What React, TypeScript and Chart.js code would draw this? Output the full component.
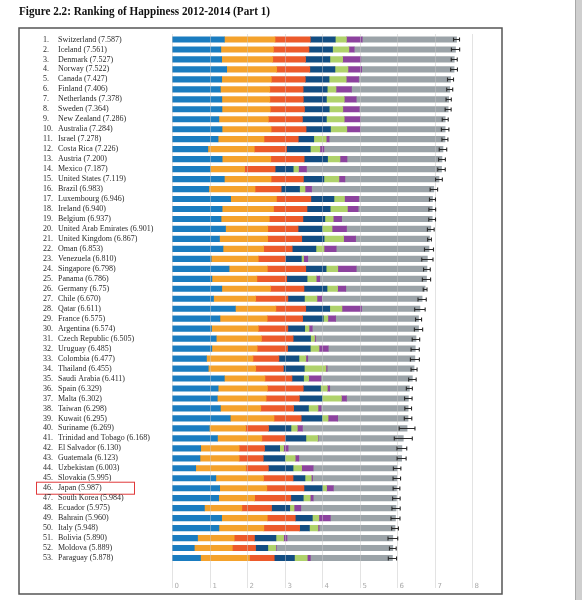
import React, { useRef, useEffect } from 'react';
import { Chart, registerables } from 'chart.js';

Chart.register(...registerables);

const countries = [
  'Switzerland', 'Iceland', 'Denmark', 'Norway', 'Canada', 'Finland', 'Netherlands', 'Sweden',
  'New Zealand', 'Australia', 'Israel', 'Costa Rica', 'Austria', 'Mexico', 'United States', 'Brazil',
  'Luxembourg', 'Ireland', 'Belgium', 'United Arab Emirates', 'United Kingdom', 'Oman', 'Venezuela',
  'Singapore', 'Panama', 'Germany', 'Chile', 'Qatar', 'France', 'Argentina', 'Czech Republic',
  'Uruguay', 'Colombia', 'Thailand', 'Saudi Arabia', 'Spain', 'Malta', 'Taiwan', 'Kuwait', 'Suriname',
  'Trinidad and Tobago', 'El Salvador', 'Guatemala', 'Uzbekistan', 'Slovakia', 'Japan', 'South Korea',
  'Ecuador', 'Bahrain', 'Italy', 'Bolivia', 'Moldova', 'Paraguay',
];

const scoreText = [
  '7.587', '7.561', '7.527', '7.522', '7.427', '7.406', '7.378', '7.364', '7.286', '7.284',
  '7.278', '7.226', '7.200', '7.187', '7.119', '6.983', '6.946', '6.940', '6.937', '6.901',
  '6.867', '6.853', '6.810', '6.798', '6.786', '6.75', '6.670', '6.611', '6.575', '6.574',
  '6.505', '6.485', '6.477', '6.455', '6.411', '6.329', '6.302', '6.298', '6.295', '6.269',
  '6.168', '6.130', '6.123', '6.003', '5.995', '5.987', '5.984', '5.975', '5.960', '5.948',
  '5.890', '5.889', '5.878',
];

const gdp = [
  1.397, 1.302, 1.325, 1.459, 1.326, 1.290, 1.329, 1.332, 1.250, 1.334,
  1.229, 0.956, 1.337, 1.021, 1.395, 0.981, 1.564, 1.336, 1.308, 1.427,
  1.266, 1.360, 1.044, 1.522, 1.064, 1.328, 1.107, 1.690, 1.278, 1.054,
  1.179, 1.062, 0.919, 0.967, 1.395, 1.230, 1.207, 1.291, 1.554, 0.995,
  1.212, 0.765, 0.746, 0.632, 1.169, 1.271, 1.245, 0.864, 1.324, 1.251,
  0.681, 0.594, 0.760,
];
const social = [
  1.350, 1.402, 1.361, 1.331, 1.323, 1.318, 1.280, 1.289, 1.320, 1.309,
  1.224, 1.238, 1.297, 0.915, 1.247, 1.233, 1.220, 1.369, 1.286, 1.126,
  1.285, 1.082, 1.256, 1.020, 1.199, 1.299, 1.124, 1.079, 1.260, 1.248,
  1.206, 1.209, 1.240, 1.265, 1.084, 1.314, 1.302, 1.076, 1.166, 0.972,
  1.184, 1.025, 1.044, 1.340, 1.270, 1.257, 0.958, 0.999, 1.216, 1.198,
  0.978, 1.015, 1.305,
];
const health = [
  0.941, 0.948, 0.875, 0.885, 0.906, 0.889, 0.893, 0.911, 0.908, 0.932,
  0.914, 0.860, 0.890, 0.814, 0.862, 0.697, 0.919, 0.895, 0.897, 0.809,
  0.909, 0.763, 0.721, 1.025, 0.797, 0.892, 0.859, 0.797, 0.946, 0.787,
  0.845, 0.812, 0.691, 0.739, 0.720, 0.956, 0.887, 0.875, 0.725, 0.608,
  0.615, 0.677, 0.644, 0.598, 0.789, 0.991, 0.965, 0.791, 0.747, 0.954,
  0.539, 0.618, 0.661,
];
const freedom = [
  0.666, 0.629, 0.649, 0.670, 0.633, 0.642, 0.616, 0.660, 0.639, 0.651,
  0.413, 0.634, 0.624, 0.482, 0.546, 0.490, 0.616, 0.618, 0.585, 0.642,
  0.596, 0.633, 0.429, 0.543, 0.542, 0.615, 0.441, 0.640, 0.550, 0.450,
  0.464, 0.604, 0.535, 0.557, 0.310, 0.460, 0.604, 0.397, 0.555, 0.597,
  0.559, 0.404, 0.577, 0.658, 0.318, 0.496, 0.332, 0.486, 0.455, 0.262,
  0.574, 0.328, 0.539,
];
const generosity = [
  0.297, 0.436, 0.341, 0.347, 0.458, 0.234, 0.476, 0.363, 0.475, 0.436,
  0.332, 0.255, 0.331, 0.141, 0.401, 0.146, 0.280, 0.459, 0.223, 0.264,
  0.519, 0.215, 0.058, 0.311, 0.244, 0.282, 0.334, 0.326, 0.123, 0.115,
  0.107, 0.233, 0.184, 0.576, 0.137, 0.182, 0.518, 0.254, 0.162, 0.170,
  0.318, 0.107, 0.275, 0.228, 0.169, 0.107, 0.186, 0.115, 0.174, 0.228,
  0.205, 0.210, 0.342,
];
const corruption = [
  0.420, 0.141, 0.484, 0.365, 0.330, 0.414, 0.318, 0.438, 0.429, 0.356,
  0.078, 0.106, 0.187, 0.213, 0.159, 0.175, 0.378, 0.287, 0.225, 0.386,
  0.321, 0.325, 0.111, 0.492, 0.093, 0.218, 0.129, 0.522, 0.206, 0.085,
  0.027, 0.246, 0.051, 0.032, 0.325, 0.064, 0.136, 0.081, 0.256, 0.136,
  0.011, 0.118, 0.095, 0.308, 0.034, 0.181, 0.079, 0.180, 0.306, 0.029,
  0.088, 0.016, 0.082,
];
const dystopia = [
  2.517, 2.702, 2.492, 2.465, 2.452, 2.620, 2.466, 2.371, 2.264, 2.266,
  3.089, 3.177, 2.533, 3.602, 2.510, 3.260, 1.970, 1.976, 2.415, 2.247,
  1.970, 2.475, 3.191, 1.885, 2.848, 2.116, 2.676, 1.557, 2.211, 2.836,
  2.678, 2.321, 2.857, 2.319, 2.439, 2.124, 1.649, 2.323, 1.876, 2.791,
  2.269, 3.035, 2.743, 2.237, 2.246, 1.684, 2.220, 2.539, 1.738, 2.025,
  2.823, 3.107, 2.189,
];
const ciHalf = [
  0.08, 0.11, 0.08, 0.09, 0.08, 0.08, 0.07, 0.08, 0.08, 0.10,
  0.08, 0.10, 0.09, 0.10, 0.09, 0.10, 0.08, 0.09, 0.09, 0.09,
  0.05, 0.12, 0.15, 0.09, 0.11, 0.05, 0.11, 0.14, 0.08, 0.11,
  0.10, 0.11, 0.12, 0.08, 0.10, 0.08, 0.10, 0.09, 0.10, 0.21,
  0.24, 0.13, 0.12, 0.10, 0.10, 0.09, 0.10, 0.11, 0.12, 0.09,
  0.13, 0.09, 0.11,
];
const xTicks = [0, 1, 2, 3, 4, 5, 6, 7, 8];
const highlighted = 'Japan';

const segments = [
  { label: 'GDP per capita', data: gdp, color: '#1a7cc0' },
  { label: 'Social support', data: social, color: '#f4a22c' },
  { label: 'Healthy life expectancy', data: health, color: '#ec5a2b' },
  { label: 'Freedom to make life choices', data: freedom, color: '#124d82' },
  { label: 'Generosity', data: generosity, color: '#afd26b' },
  { label: 'Perceptions of corruption', data: corruption, color: '#8c429e' },
  { label: 'Dystopia + residual', data: dystopia, color: '#9ba3a8' },
];

const serif = '"Liberation Serif", "DejaVu Serif", serif';

// frame, title, grid lines, whiskers and labels around the bars
const framePlugin = {
  id: 'frame',
  beforeDatasetsDraw(chart: any) {
    const { ctx } = chart;
    ctx.save();
    ctx.fillStyle = '#cfcfcf';
    ctx.fillRect(575, 0, 7, 600);
    ctx.fillStyle = '#a8a8a8';
    ctx.fillRect(575, 0, 1, 600);

    // title squeezed to the width it has in the figure
    const title = 'Figure 2.2: Ranking of Happiness 2012-2014 (Part 1)';
    ctx.fillStyle = '#111';
    ctx.font = `bold 13px ${serif}`;
    ctx.textBaseline = 'alphabetic';
    const w = ctx.measureText(title).width;
    ctx.translate(19, 15);
    ctx.scale(251 / w, 1);
    ctx.fillText(title, 0, 0);
    ctx.restore();

    ctx.save();
    ctx.strokeStyle = '#555';
    ctx.lineWidth = 1.5;
    ctx.strokeRect(19, 28, 483, 566);
    ctx.restore();
  },
  afterDatasetsDraw(chart: any) {
    const { ctx, scales } = chart;
    ctx.save();
    // grid lines lie over the bars, lightly
    ctx.strokeStyle = 'rgba(200,200,200,0.5)';
    ctx.lineWidth = 1;
    ctx.font = '7px "DejaVu Sans", sans-serif';
    ctx.fillStyle = '#aaa';
    xTicks.forEach((t) => {
      const x = Math.round(scales.x.getPixelForValue(t)) + 0.5;
      ctx.beginPath();
      ctx.moveTo(x, 34);
      ctx.lineTo(x, 588);
      ctx.stroke();
      ctx.fillText(String(t), x + 2, 588);
    });

    // confidence interval whiskers
    ctx.strokeStyle = '#2a2a2a';
    ctx.lineWidth = 1.1;
    countries.forEach((_, i) => {
      const score = parseFloat(scoreText[i]);
      const y = Math.round(scales.y.getPixelForValue(i)) + 0.5;
      const x0 = scales.x.getPixelForValue(score - ciHalf[i]);
      const x1 = scales.x.getPixelForValue(score + ciHalf[i]);
      ctx.beginPath();
      ctx.moveTo(x0, y);
      ctx.lineTo(x1, y);
      ctx.moveTo(x0, y - 2);
      ctx.lineTo(x0, y + 2);
      ctx.moveTo(x1, y - 2);
      ctx.lineTo(x1, y + 2);
      ctx.stroke();
    });

    // rank and country labels
    ctx.fillStyle = '#2b2b2b';
    ctx.font = `8px ${serif}`;
    ctx.textBaseline = 'middle';
    countries.forEach((name, i) => {
      const y = scales.y.getPixelForValue(i);
      ctx.fillText(`${i + 1}.`, 43, y);
      ctx.fillText(`${name} (${scoreText[i]})`, 58, y);
      if (name === highlighted) {
        ctx.strokeStyle = '#e0383a';
        ctx.lineWidth = 1;
        ctx.strokeRect(36.5, y - 6, 98, 12);
      }
    });
    ctx.restore();
  },
};

const App = () => {
  const canvasRef = useRef<any>(null);
  const chartRef = useRef<any>(null);

  useEffect(() => {
    if (canvasRef.current) {
      const ctx = canvasRef.current.getContext('2d');
      if (chartRef.current) {
        chartRef.current.destroy();
      }
      chartRef.current = new Chart(ctx, {
        type: 'bar',
        data: {
          labels: countries,
          datasets: segments.map((s) => ({
            label: s.label,
            data: s.data,
            backgroundColor: s.color,
            borderWidth: 0,
            barThickness: 5.5,
          })),
        },
        options: {
          indexAxis: 'y',
          responsive: false,
          animation: false,
          layout: { padding: { left: 172, right: 110, top: 34.5, bottom: 37 } },
          plugins: {
            legend: { display: false },
            tooltip: { enabled: false },
            title: { display: false },
          },
          scales: {
            x: { display: false, stacked: true, min: 0, max: 8 },
            y: { display: false, stacked: true },
          },
        },
        plugins: [framePlugin],
      });
    }
    return () => {
      if (chartRef.current) {
        chartRef.current.destroy();
      }
    };
  }, []);

  return (
    <div style={{ position: 'absolute', left: 0, top: 0, width: 582, height: 600, background: '#fff' }}>
      <canvas ref={canvasRef} width={582} height={600} style={{ width: '582px', height: '600px' }} />
    </div>
  );
};

export default App;
